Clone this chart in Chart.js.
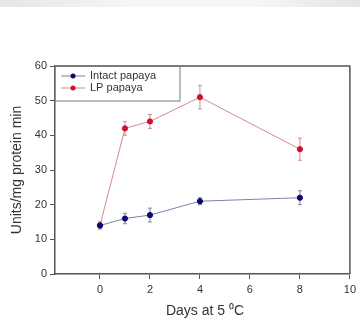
<!DOCTYPE html>
<html>
<head>
<meta charset="utf-8">
<script src="https://cdn.jsdelivr.net/npm/chart.js@4.4.0/dist/chart.umd.min.js"></script>
<style>
  html, body { margin: 0; padding: 0; background: #fff; }
  #band { position: absolute; left: 0; top: 0; width: 360px; height: 7px;
    background: linear-gradient(to right, #e6e6e6, #f7f7f7 40%, #f7f7f7 70%, #e4e4e4); }
  #wrap { position: absolute; left: 0; top: 0; width: 360px; height: 335px; }
</style>
</head>
<body>
<div id="band"></div>
<div id="wrap"><canvas id="myChart" width="360" height="335"></canvas></div>
<script>
// data
const days = [0, 1, 2, 4, 8];
const intact = [14, 16, 17, 21, 22];
const intactErr = [1, 1.5, 2, 1, 2];
const lp = [14, 42, 44, 51, 36];
const lpErr = [1, 2, 2, 3.4, 3.2];
const xTicks = [0, 2, 4, 6, 8, 10];
const yTicks = [0, 10, 20, 30, 40, 50, 60];

const navy = '#0a0a6e';
const navyLine = '#7f80a6';
const red = '#d0102a';
const redLine = '#d88890';

function pts(vals) {
  return days.map((d, i) => ({ x: d, y: vals[i] }));
}

// error bars, frame, legend and titles
const extras = {
  id: 'extras',
  beforeDatasetsDraw(chart) {
    const ctx = chart.ctx;
    const xs = chart.scales.x, ys = chart.scales.y;
    const sets = [[intact, intactErr, navyLine], [lp, lpErr, redLine]];
    ctx.save();
    ctx.lineWidth = 1;
    sets.forEach(([v, e, c]) => {
      ctx.strokeStyle = c;
      days.forEach((d, i) => {
        const px = xs.getPixelForValue(d);
        const top = ys.getPixelForValue(v[i] + e[i]);
        const bot = ys.getPixelForValue(v[i] - e[i]);
        ctx.beginPath();
        ctx.moveTo(px, top); ctx.lineTo(px, bot);
        ctx.moveTo(px - 2, top); ctx.lineTo(px + 2, top);
        ctx.moveTo(px - 2, bot); ctx.lineTo(px + 2, bot);
        ctx.stroke();
      });
    });
    ctx.restore();
  },
  afterDraw(chart) {
    const ctx = chart.ctx;
    const a = chart.chartArea;
    ctx.save();
    // top and right frame
    ctx.strokeStyle = '#555';
    ctx.lineWidth = 1.5;
    ctx.beginPath();
    ctx.moveTo(a.left, a.top); ctx.lineTo(a.right, a.top); ctx.lineTo(a.right, a.bottom);
    ctx.stroke();
    // legend box
    ctx.lineWidth = 1;
    ctx.strokeStyle = '#777';
    ctx.strokeRect(a.left, a.top, 125, 35);
    const items = [['Intact papaya', navy, navyLine], ['LP papaya', red, redLine]];
    ctx.font = '11px "Liberation Sans", Arial, sans-serif';
    ctx.textBaseline = 'middle';
    items.forEach(([t, c, lc], i) => {
      const y = a.top + 10 + i * 12;
      ctx.strokeStyle = lc;
      ctx.beginPath(); ctx.moveTo(a.left + 6, y); ctx.lineTo(a.left + 30, y); ctx.stroke();
      ctx.fillStyle = c;
      ctx.beginPath(); ctx.arc(a.left + 18, y, 2.5, 0, Math.PI * 2); ctx.fill();
      ctx.fillStyle = '#333';
      ctx.fillText(t, a.left + 35, y);
    });
    // axis titles
    ctx.font = '14px "Liberation Sans", Arial, sans-serif';
    ctx.fillStyle = '#333';
    ctx.textAlign = 'center';
    ctx.fillText('Days at 5 \u2070C', 205, 311);
    ctx.translate(17, 170);
    ctx.rotate(-Math.PI / 2);
    ctx.fillText('Units/mg protein min', 0, 0);
    ctx.restore();
  }
};

let ctx = document.getElementById('myChart').getContext('2d');
let chart = new Chart(ctx, {
  type: 'line',
  data: {
    datasets: [{
      label: 'Intact papaya',
      data: pts(intact),
      borderColor: navyLine,
      backgroundColor: navy,
      pointBackgroundColor: navy,
      pointBorderColor: navy,
      pointRadius: 2.6,
      borderWidth: 1
    }, {
      label: 'LP papaya',
      data: pts(lp),
      borderColor: redLine,
      backgroundColor: red,
      pointBackgroundColor: red,
      pointBorderColor: red,
      pointRadius: 2.6,
      borderWidth: 1
    }]
  },
  plugins: [extras],
  options: {
    responsive: false,
    animation: false,
    layout: { padding: { left: 0, top: 66, right: 8, bottom: 0 } },
    plugins: { legend: { display: false }, tooltip: { enabled: false } },
    scales: {
      x: {
        type: 'linear',
        min: -1.8, max: 10,
        afterBuildTicks: s => { s.ticks = xTicks.map(v => ({ value: v })); },
        afterFit: s => { s.height = 61; },
        grid: { drawOnChartArea: false, tickLength: 5, color: '#555', lineWidth: 1 },
        border: { color: '#555', width: 1.5 },
        ticks: { color: '#333', font: { size: 11, family: '"Liberation Sans", Arial' }, padding: 4 }
      },
      y: {
        min: 0, max: 60,
        afterBuildTicks: s => { s.ticks = yTicks.map(v => ({ value: v })); },
        afterFit: s => { s.width = 55; },
        grid: { drawOnChartArea: false, tickLength: 5, color: '#555', lineWidth: 1 },
        border: { color: '#555', width: 1.5 },
        ticks: { color: '#333', font: { size: 11, family: '"Liberation Sans", Arial' }, padding: 3 }
      }
    }
  }
});
</script>
</body>
</html>
